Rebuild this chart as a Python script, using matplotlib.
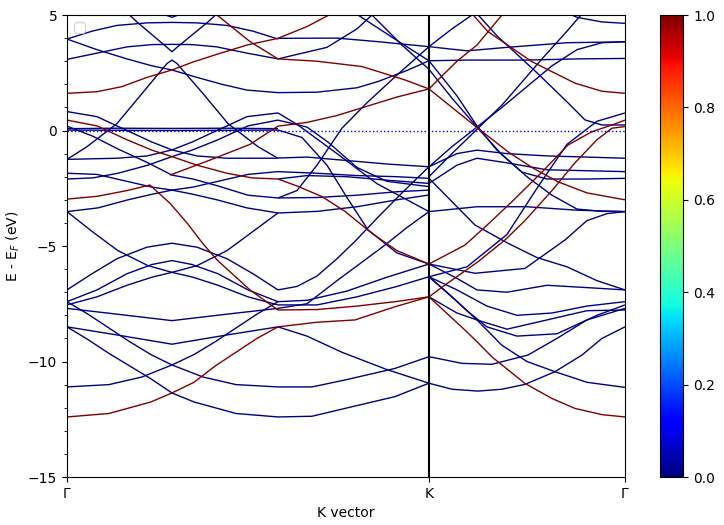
import numpy as np
import matplotlib
matplotlib.use("Agg")
import matplotlib.pyplot as plt
from matplotlib.collections import LineCollection
from matplotlib.ticker import MultipleLocator

# k-path: Gamma -> K -> Gamma (path length units)
k_ticks = [0.0, 3.62, 5.58]
k_labels = ["Γ", "K", "Γ"]

# bands as (k, E - E_F) points
# weight 0 -> navy, weight 1 -> dark red
seg1_blue = [
    [(0, -8.5), (0.21, -9.05), (0.42, -9.65), (0.63, -10.2), (0.84, -10.75), (1.05, -11.36), (1.27, -11.75), (1.69, -12.25), (2.11, -12.4)],
    [(0, -11.1), (0.42, -11.0), (0.75, -10.67), (1.05, -10.15), (1.27, -9.7), (1.48, -9.15), (1.69, -8.55), (1.9, -7.95), (2.11, -7.41)],
    [(0, -7.41), (0.21, -7.95), (0.42, -8.55), (0.63, -9.15), (0.84, -9.7), (1.05, -10.15), (1.36, -10.67), (1.69, -11.0), (2.11, -11.1)],
    [(0, -8.5), (0.5, -8.85), (1.05, -9.25), (1.6, -8.85), (2.11, -8.5)],
    [(0, -7.7), (0.5, -7.95), (1.05, -8.23), (1.6, -7.95), (2.11, -7.7)],
    [(0, -6.9), (0.25, -6.2), (0.5, -5.55), (0.8, -5.05), (1.05, -4.88), (1.3, -5.05), (1.6, -5.55), (1.86, -6.2), (2.11, -6.9)],
    [(0, -7.55), (0.3, -7.2), (0.6, -6.7), (0.85, -6.35), (1.05, -6.14), (1.3, -5.85), (1.6, -5.2), (1.85, -4.4), (2.11, -3.57)],
    [(0, -3.51), (0.26, -4.4), (0.51, -5.2), (0.81, -5.85), (1.05, -6.14), (1.26, -6.35), (1.51, -6.7), (1.81, -7.2), (2.11, -7.55)],
    [(0, -7.41), (0.3, -6.9), (0.6, -6.2), (0.85, -5.8), (1.05, -5.63), (1.25, -5.8), (1.51, -6.2), (1.81, -6.9), (2.11, -7.41)],
    [(0, -1.85), (0.3, -1.9), (0.6, -2.2), (0.85, -2.45), (1.05, -2.58), (1.25, -2.75), (1.5, -3.0), (1.8, -3.35), (2.11, -3.57)],
    [(0, -3.51), (0.31, -3.35), (0.61, -3.0), (0.86, -2.75), (1.05, -2.58), (1.26, -2.45), (1.51, -2.2), (1.81, -1.9), (2.11, -1.78)],
    [(0, -2.1), (0.26, -2.05), (0.51, -1.85), (0.81, -1.5), (1.05, -1.13), (1.25, -0.85), (1.51, -0.4), (1.81, 0.2), (2.11, 0.45)],
    [(0, 0.19), (0.26, -0.25), (0.51, -0.8), (0.81, -1.4), (1.05, -1.93), (1.26, -2.1), (1.51, -2.4), (1.81, -2.8), (2.11, -2.92)],
    [(0, 0.82), (0.3, 0.6), (0.6, 0.0), (0.85, -0.5), (1.05, -0.84), (1.3, -1.1), (1.6, -1.2), (2.11, -1.2)],
    [(0, -1.25), (0.5, -1.2), (0.8, -1.1), (1.05, -0.84), (1.25, -0.5), (1.5, 0.0), (1.8, 0.6), (2.11, 0.76)],
    [(0, 0.08), (0.5, 0.1), (1.05, 0.09), (1.6, 0.1), (2.11, 0.08)],
    [(0, 0.02), (1.05, 0.0), (2.11, 0.02)],
    [(0, 3.96), (0.25, 4.3), (0.5, 4.55), (0.8, 4.66), (1.05, 4.68), (1.3, 4.66), (1.6, 4.55), (1.86, 4.3), (2.11, 3.96)],
    [(0, 3.96), (0.3, 3.5), (0.6, 3.1), (0.85, 2.8), (1.05, 2.62), (1.3, 2.3), (1.55, 2.0), (1.8, 1.75), (2.11, 1.64)],
    [(0, 3.08), (0.3, 3.35), (0.6, 3.62), (0.85, 3.72), (1.05, 3.73), (1.25, 3.72), (1.5, 3.62), (1.8, 3.35), (2.11, 3.1)],
    [(0, -1.25), (0.2, -0.7), (0.5, 0.3), (0.75, 1.6), (1.0, 2.9), (1.05, 3.05), (1.1, 2.9), (1.36, 1.6), (1.61, 0.3), (1.91, -0.7), (2.11, -1.2)],
    [(0.55, 5.3), (0.7, 4.7), (1.0, 3.6), (1.05, 3.41), (1.1, 3.6), (1.41, 4.7), (1.56, 5.3)],
    [(0.8, 5.3), (1.05, 4.9), (1.3, 5.3)],
]
seg1_red = [
    [(0, -12.4), (0.42, -12.25), (0.84, -11.75), (1.05, -11.36), (1.27, -10.9), (1.48, -10.2), (1.69, -9.6), (1.9, -9.0), (2.11, -8.5)],
    [(0, 1.61), (0.3, 1.68), (0.55, 1.9), (0.8, 2.3), (1.05, 2.62), (1.25, 2.95), (1.5, 3.3), (1.8, 3.7), (2.11, 3.99)],
    [(0, 0.45), (0.3, 0.2), (0.6, -0.4), (0.85, -0.85), (1.05, -1.13), (1.3, -1.5), (1.6, -1.85), (1.85, -2.05), (2.11, -2.1)],
    [(1.03, -1.93), (1.43, -1.28), (1.83, -0.6), (2.11, 0.19)],
    [(0, -2.97), (0.3, -2.85), (0.6, -2.6), (0.83, -2.36), (1.03, -3.15), (1.2, -4.0), (1.36, -4.9), (1.5, -5.6), (1.83, -6.9), (2.11, -7.77)],
    [(1.4, 5.3), (1.5, 5.0), (1.83, 3.85), (2.11, 3.1)],
]
seg2_blue = [
    [(2.11, -12.4), (2.45, -12.37), (2.78, -12.03), (3.28, -11.52), (3.62, -10.94)],
    [(2.11, -11.1), (2.45, -11.1), (2.78, -10.8), (3.28, -10.3), (3.62, -9.79)],
    [(2.11, -8.5), (2.4, -8.9), (2.75, -9.6), (3.2, -10.35), (3.62, -10.94)],
    [(2.11, -6.9), (2.3, -6.75), (2.5, -6.3), (2.7, -5.55), (2.88, -4.8), (3.1, -3.8), (3.35, -2.7), (3.62, -1.57)],
    [(2.11, -7.41), (2.4, -7.35), (2.8, -6.95), (3.2, -6.35), (3.62, -5.78)],
    [(2.11, -7.55), (2.5, -7.55), (2.9, -7.2), (3.3, -6.75), (3.62, -6.33)],
    [(2.11, -7.7), (2.4, -7.5), (2.7, -6.5), (2.95, -5.7), (3.18, -4.96), (3.4, -4.2), (3.62, -3.51)],
    [(2.11, -1.19), (2.4, -1.15), (2.8, -1.3), (3.2, -1.45), (3.62, -1.57)],
    [(2.11, -1.78), (2.5, -1.85), (2.9, -1.95), (3.3, -2.0), (3.62, -2.07)],
    [(2.11, -2.1), (2.4, -1.95), (2.8, -2.0), (3.2, -2.15), (3.62, -2.29)],
    [(2.11, -2.92), (2.5, -2.9), (2.9, -2.8), (3.3, -2.65), (3.62, -2.58)],
    [(2.11, -3.57), (2.5, -3.5), (2.9, -3.3), (3.3, -3.0), (3.62, -2.79)],
    [(2.11, 0.76), (2.31, 0.24), (2.7, -1.0), (3.1, -2.3), (3.62, -3.51)],
    [(2.11, 0.45), (2.4, 0.15), (2.61, -0.5), (2.9, -1.6), (3.2, -2.2), (3.62, -2.43)],
    [(2.11, 0.02), (2.35, -0.3), (2.6, -1.5), (2.8, -2.9), (3.01, -4.3), (3.3, -5.3), (3.62, -5.78)],
    [(2.11, 1.64), (2.5, 1.66), (2.9, 1.85), (3.11, 2.12), (3.4, 2.6), (3.62, 3.02)],
    [(2.11, 3.99), (2.7, 4.0), (3.1, 3.85), (3.62, 3.63)],
    [(2.11, 3.1), (2.6, 3.6), (2.9, 4.4), (3.05, 5.0), (3.15, 5.4)],
    [(2.8, 5.4), (2.91, 5.0), (3.3, 3.9), (3.62, 3.02)],
    [(2.95, 5.4), (3.05, 5.0), (3.35, 3.7), (3.62, 2.65)],
    [(2.11, -2.92), (2.3, -2.6), (2.5, -1.5), (2.75, 0.1), (3.0, 1.2), (3.3, 2.4), (3.62, 3.63)],
]
seg2_red = [
    [(2.11, -8.5), (2.5, -8.3), (2.88, -8.2), (3.28, -7.63), (3.62, -7.2)],
    [(2.11, -7.77), (2.5, -7.75), (2.9, -7.6), (3.3, -7.4), (3.62, -7.2)],
    [(2.11, -2.1), (2.3, -2.4), (2.55, -2.86), (2.78, -3.5), (3.05, -4.45), (3.3, -5.2), (3.62, -5.78)],
    [(2.11, 3.1), (2.5, 3.0), (2.95, 2.77), (3.38, 2.19), (3.62, 1.8)],
    [(2.11, 0.19), (2.4, 0.35), (2.7, 0.65), (3.0, 1.05), (3.3, 1.45), (3.62, 1.8)],
    [(2.11, 3.99), (2.4, 4.5), (2.62, 5.0), (2.75, 5.3)],
]
seg3_blue = [
    [(3.62, -10.94), (3.85, -11.2), (4.11, -11.28), (4.35, -11.2), (4.58, -10.99), (4.88, -10.44), (5.15, -9.72), (5.35, -9.0), (5.58, -8.5)],
    [(3.62, -9.79), (3.95, -10.08), (4.25, -10.12), (4.61, -9.72), (4.9, -9.0), (5.2, -8.2), (5.58, -7.7)],
    [(3.62, -6.33), (3.9, -7.4), (4.1, -8.2), (4.35, -9.3), (4.6, -10.0), (4.88, -10.44), (5.2, -10.9), (5.58, -11.12)],
    [(3.62, -5.78), (4.08, -6.18), (4.58, -5.97), (4.98, -4.74), (5.2, -3.9), (5.4, -3.6), (5.58, -3.51)],
    [(3.62, -6.33), (3.9, -6.9), (4.2, -7.6), (4.5, -8.0), (4.85, -7.9), (5.2, -7.6), (5.58, -7.41)],
    [(3.62, -5.78), (3.9, -6.4), (4.1, -6.9), (4.4, -7.0), (4.8, -6.7), (5.2, -6.8), (5.58, -6.9)],
    [(3.62, -7.2), (3.9, -7.9), (4.1, -8.2), (4.4, -8.6), (4.8, -8.2), (5.2, -7.8), (5.58, -7.77)],
    [(3.62, -6.33), (3.8, -7.0), (4.0, -7.8), (4.2, -8.5), (4.5, -8.9), (4.9, -8.8), (5.3, -8.0), (5.58, -7.55)],
    [(3.62, -1.57), (3.85, -0.7), (4.1, 0.15), (4.35, 1.0), (4.6, 1.9), (4.85, 2.8), (5.1, 3.5), (5.35, 3.8), (5.58, 3.84)],
    [(3.62, -2.0), (3.85, -1.0), (4.1, 0.05), (4.35, 1.1), (4.55, 2.1), (4.75, 3.1), (5.0, 4.3), (5.2, 5.3)],
    [(3.62, 2.65), (3.85, 1.4), (4.1, 0.15), (4.35, -1.05), (4.6, -2.0), (4.85, -2.8), (5.1, -3.4), (5.35, -3.5), (5.58, -3.51)],
    [(3.62, 3.02), (3.9, 1.5), (4.1, 0.2), (4.3, -0.85), (4.55, -1.8), (4.8, -2.1), (5.2, -2.1), (5.58, -2.07)],
    [(3.62, 3.02), (4.0, 3.05), (4.6, 3.05), (5.1, 3.1), (5.58, 3.12)],
    [(3.62, 3.63), (4.0, 3.45), (4.4, 3.6), (5.0, 3.8), (5.58, 3.84)],
    [(3.62, 3.63), (3.85, 4.4), (4.05, 5.0), (4.15, 5.3)],
    [(4.9, 5.3), (5.1, 4.9), (5.35, 4.7), (5.58, 4.64)],
    [(3.62, -1.57), (3.9, -1.0), (4.1, -0.85), (4.4, -1.0), (4.8, -1.1), (5.2, -1.15), (5.58, -1.2)],
    [(3.62, -2.29), (3.9, -1.5), (4.1, -1.2), (4.4, -1.4), (4.8, -1.7), (5.58, -1.78)],
    [(3.62, -3.51), (4.1, -3.3), (4.6, -3.3), (5.1, -3.45), (5.58, -3.51)],
    [(3.62, -2.07), (4.08, -4.09), (4.41, -4.88), (4.7, -5.5), (5.0, -5.9), (5.3, -6.5), (5.58, -6.9)],
    [(3.62, -6.33), (4.0, -5.9), (4.4, -4.5), (4.7, -2.5), (5.0, -0.6), (5.3, 0.4), (5.58, 0.76)],
    [(4.05, 5.3), (4.3, 4.1), (4.5, 3.3), (4.7, 2.5), (5.01, 1.2), (5.18, 0.46), (5.35, 0.24), (5.58, 0.24)],
]
seg3_red = [
    [(3.62, 1.8), (3.85, 1.0), (4.08, 0.2), (4.41, -0.92), (4.65, -1.6), (4.91, -2.22), (5.2, -2.7), (5.58, -3.0)],
    [(3.62, 1.8), (3.71, 2.19), (3.9, 3.0), (4.1, 3.7), (4.35, 5.0), (4.4, 5.3)],
    [(4.0, 5.3), (4.21, 4.28), (4.65, 2.98), (5.08, 2.05), (5.35, 1.7), (5.58, 1.61)],
    [(3.62, -7.2), (3.98, -8.64), (4.1, -9.14), (4.25, -9.8), (4.58, -10.95), (4.85, -11.6), (5.08, -12.03), (5.35, -12.3), (5.58, -12.4)],
    [(3.62, -5.78), (3.98, -4.96), (4.2, -4.1), (4.45, -3.08), (4.75, -1.8), (5.01, -0.63), (5.25, -0.05), (5.45, 0.24), (5.58, 0.45)],
    [(3.62, -7.2), (3.78, -6.69), (4.11, -5.68), (4.38, -4.74), (4.58, -3.9), (4.85, -2.6), (5.08, -1.4), (5.3, -0.4), (5.45, 0.1), (5.58, 0.17)],
]

fig = plt.figure(figsize=(7.24, 5.25), dpi=100)
ax = fig.add_axes([0.0925, 0.0914, 0.7707, 0.88])
cax = fig.add_axes([0.912, 0.0914, 0.032, 0.88])

lines = []
weights = []
for group, w in [(seg1_blue, 0.0), (seg2_blue, 0.0), (seg3_blue, 0.0),
                 (seg1_red, 1.0), (seg2_red, 1.0), (seg3_red, 1.0)]:
    for band in group:
        lines.append(np.array(band))
        weights.append(w)

lc = LineCollection(lines, cmap="jet", norm=plt.Normalize(0, 1), linewidths=1.0)
lc.set_array(np.array(weights))
ax.add_collection(lc)

ax.axvline(k_ticks[1], color="k", linewidth=1.5)
ax.axhline(0, color="blue", linestyle=":", linewidth=1.0)

ax.set_xlim(k_ticks[0], k_ticks[-1])
ax.set_ylim(-15, 5)
ax.set_xticks(k_ticks)
ax.set_xticklabels(k_labels)
ax.yaxis.set_major_locator(MultipleLocator(5))
ax.yaxis.set_minor_locator(MultipleLocator(1))
ax.set_xlabel("K vector")
ax.set_ylabel("E - E$_F$ (eV)")
ax.legend(loc="upper left")

fig.colorbar(lc, cax=cax)

fig.savefig("out.png", dpi=100)
